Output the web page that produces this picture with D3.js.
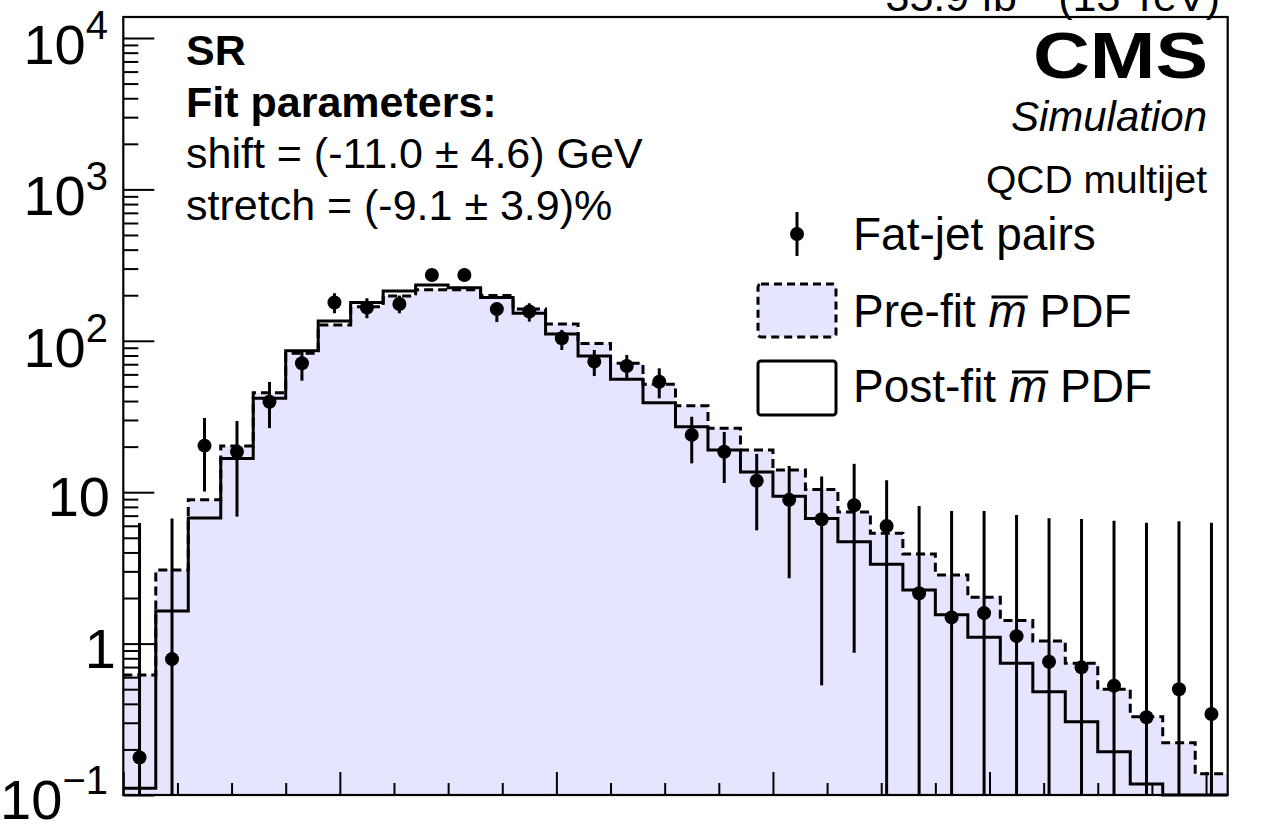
<!DOCTYPE html>
<html lang="en">
<head>
<meta charset="utf-8">
<title>SR fit</title>
<script src="https://cdn.jsdelivr.net/npm/d3@7"></script>
<style>
  body { margin: 0; background: #fff; }
  svg { display: block; font-family: "Liberation Sans", Arial, Helvetica, sans-serif; }
</style>
</head>
<body>
<script>

// bin edges of the mass axis (GeV), 34 bins
var binEdges = [0, 15, 30, 45, 60, 75, 90, 105, 120, 135, 150, 165, 180, 195, 210, 225, 240,
  255, 270, 285, 300, 315, 330, 345, 360, 375, 390, 405, 420, 435, 450, 465, 480, 495, 510];

// fat-jet pairs (points) with lower / upper error edges
var dataVals = [0.177, 0.79, 20.3, 18.5, 39.6, 71, 179, 166, 175, 272, 272, 162, 156, 104, 72.8,
  68.2, 53.7, 23.9, 18.5, 11.9, 8.9, 6.63, 8.2, 5.98, 2.15, 1.49, 1.59, 1.12, 0.759, 0.697, 0.527,
  0.326, 0.499, 0.343];
var dataLo = [0, 0, 10.1, 6.9, 26.5, 54.5, 152, 141, 152, 252, 252, 133, 134, 87, 58.5, 55, 41.7,
  15.5, 11.5, 5.6, 2.7, 0.53, 0.87, 0, 0, 0, 0, 0, 0, 0, 0, 0, 0, 0];
var dataHi = [6.26, 6.7, 30.9, 29.5, 53.5, 87, 206, 191, 199, 290, 290, 178, 177, 118, 87, 80.5,
  65.8, 31.5, 25, 17.9, 14.9, 12.7, 15.4, 12.0, 8.1, 7.5, 7.5, 7.06, 6.72, 6.65, 6.49, 6.29, 6.42, 6.29];

// pre-fit and post-fit mbar PDFs
var preFit = [0.62, 3.06, 8.9, 20.2, 45.4, 82.6, 127, 168, 198, 217, 217, 199, 162, 129, 96, 71,
  51.7, 37.3, 26.4, 19.0, 14.0, 10.4, 7.4, 5.36, 3.91, 2.84, 2.02, 1.42, 1.04, 0.741, 0.499, 0.329,
  0.221, 0.138];
var postFit = [0.111, 1.64, 6.76, 16.7, 41.7, 86, 135, 179, 213, 234, 224, 193, 152, 111, 79.4,
  55.7, 39, 27.1, 19.0, 13.6, 9.4, 6.7, 4.7, 3.34, 2.26, 1.55, 1.10, 0.741, 0.481, 0.305, 0.193,
  0.118, 0.09, 0.09];

var xMajor = [0, 100, 200, 300, 400, 500];
var yMajor = [0.1, 1, 10, 100, 1000, 10000];
var yLabels = [["10", "\u22121"], ["1", null], ["10", null], ["10", "2"], ["10", "3"], ["10", "4"]];

var W = 1267, H = 824;
// frame edges (note: "top" is reserved on window, so use p* names)
var pL = 123.3, pR = 1227.7, pT = 17, pB = 795;
var fillCol = "#e5e5ff";

var svg = d3.select("body").append("svg").attr("width", W).attr("height", H);

var x = d3.scaleLinear().domain([binEdges[0], binEdges[binEdges.length - 1]]).range([pL, pR]);
var y = d3.scaleLog().domain([0.1, Math.pow(10, 4 + 21 / 151.4)]).range([pB, pT]).clamp(true);
function Y(v) { return v <= y.domain()[0] ? pB : y(v); }

function steps(vals) {
  var pts = [];
  vals.forEach(function(v, i) {
    pts.push([x(binEdges[i]), Y(v)]);
    pts.push([x(binEdges[i + 1]), Y(v)]);
  });
  return pts;
}

var line = d3.line();

// pre-fit fill + dashed outline
var prePts = steps(preFit);
svg.append("path")
  .attr("d", line([[pL, pB]].concat(prePts, [[pR, pB]])) + "Z")
  .attr("fill", fillCol);
svg.append("path")
  .attr("d", line(prePts))
  .attr("fill", "none").attr("stroke", "#000").attr("stroke-width", 3)
  .attr("stroke-dasharray", "9,5");

// post-fit solid
svg.append("path")
  .attr("d", line(steps(postFit)))
  .attr("fill", "none").attr("stroke", "#000").attr("stroke-width", 3);

// data points
var centers = dataVals.map(function(d, i) { return (binEdges[i] + binEdges[i + 1]) / 2; });
var pts = svg.append("g").selectAll("g").data(dataVals).enter().append("g");
pts.append("line")
  .attr("x1", function(d, i) { return x(centers[i]); })
  .attr("x2", function(d, i) { return x(centers[i]); })
  .attr("y1", function(d, i) { return Y(dataLo[i]); })
  .attr("y2", function(d, i) { return Y(dataHi[i]); })
  .attr("stroke", "#000").attr("stroke-width", 3);
pts.append("circle")
  .attr("cx", function(d, i) { return x(centers[i]); })
  .attr("cy", function(d) { return Y(d); })
  .attr("r", 7).attr("fill", "#000");

// axes: inward ticks
var xMinor = d3.range(0, 501, 25).filter(function(v) { return v % 100 !== 0; });
svg.append("g").attr("transform", "translate(0," + pB + ")")
  .call(d3.axisBottom(x).tickValues(xMajor).tickSize(-23).tickFormat(""));
svg.append("g").attr("transform", "translate(0," + pB + ")")
  .call(d3.axisBottom(x).tickValues(xMinor).tickSize(-12).tickFormat(""));

var yMinor = [];
yMajor.forEach(function(m) {
  for (var k = 2; k <= 9; k++) if (m * k < y.domain()[1]) yMinor.push(m * k);
});
svg.append("g").attr("transform", "translate(" + pL + ",0)")
  .call(d3.axisLeft(y).tickValues(yMajor).tickSize(-31).tickFormat(""));
svg.append("g").attr("transform", "translate(" + pL + ",0)")
  .call(d3.axisLeft(y).tickValues(yMinor).tickSize(-15).tickFormat(""));
svg.selectAll(".domain").remove();
svg.selectAll(".tick line").attr("stroke", "#000").attr("stroke-width", 2);

// frame
svg.append("rect").attr("x", pL).attr("y", pT)
  .attr("width", pR - pL).attr("height", pB - pT)
  .attr("fill", "none").attr("stroke", "#000").attr("stroke-width", 2.2);

// y labels
yMajor.forEach(function(v, i) {
  var lab = yLabels[i];
  var t = svg.append("text").attr("text-anchor", "end").attr("font-size", 56)
    .attr("x", lab[1] ? 108 : (v === 1 ? 116 : 110))
    .attr("y", y(v) + (v === 0.1 ? 24 : (lab[1] ? 26 : 24)));
  t.append("tspan").text(lab[0]);
  if (lab[1]) t.append("tspan").attr("font-size", 40).attr("dy", -25).text(lab[1]);
});

// header text (mostly above the window, as in the original)
svg.append("text").attr("x", 1220).attr("y", 11).attr("text-anchor", "end")
  .attr("font-size", 43).text("35.9 fb\u207B\u00B9 (13 TeV)");

svg.append("text").attr("x", 1208).attr("y", 78).attr("text-anchor", "end")
  .attr("font-size", 65).attr("font-weight", "bold")
  .attr("textLength", 175).attr("lengthAdjust", "spacingAndGlyphs").text("CMS");
svg.append("text").attr("x", 1207).attr("y", 131).attr("text-anchor", "end")
  .attr("font-size", 42).attr("font-style", "italic").text("Simulation");
svg.append("text").attr("x", 1207).attr("y", 193).attr("text-anchor", "end")
  .attr("font-size", 39).text("QCD multijet");

var info = [["SR", true], ["Fit parameters:", true],
  ["shift = (-11.0 \u00B1 4.6) GeV", false], ["stretch = (-9.1 \u00B1 3.9)%", false]];
info.forEach(function(r, i) {
  svg.append("text").attr("x", 186).attr("y", 65 + i * 51.5)
    .attr("font-size", 43).attr("font-weight", r[1] ? "bold" : "normal").text(r[0]);
});

// legend
var lg = svg.append("g");
lg.append("line").attr("x1", 797).attr("x2", 797).attr("y1", 212).attr("y2", 256)
  .attr("stroke", "#000").attr("stroke-width", 3);
lg.append("circle").attr("cx", 797).attr("cy", 234).attr("r", 7).attr("fill", "#000");
lg.append("rect").attr("x", 758).attr("y", 284).attr("width", 78).attr("height", 53).attr("rx", 3)
  .attr("fill", fillCol).attr("stroke", "#000").attr("stroke-width", 3).attr("stroke-dasharray", "8,5");
lg.append("rect").attr("x", 758).attr("y", 361).attr("width", 78).attr("height", 54).attr("rx", 3)
  .attr("fill", "#fff").attr("stroke", "#000").attr("stroke-width", 3);

var legTexts = [["Fat-jet pairs", 250], ["Pre-fit |m| PDF", 327], ["Post-fit |m| PDF", 402]];
legTexts.forEach(function(l) {
  var parts = l[0].split("|");
  var t = lg.append("text").attr("x", 853).attr("y", l[1]).attr("font-size", 46);
  t.append("tspan").text(parts[0]);
  if (parts.length > 1) {
    t.append("tspan").attr("font-style", "italic").text(parts[1]);
    t.append("tspan").text(parts[2]);
    var idx = parts[0].length;
    var a = t.node().getStartPositionOfChar(idx).x;
    var b = t.node().getEndPositionOfChar(idx).x;
    lg.append("line").attr("x1", a + 3).attr("x2", b + 1)
      .attr("y1", l[1] - 30).attr("y2", l[1] - 30)
      .attr("stroke", "#000").attr("stroke-width", 3);
  }
});

</script>
</body>
</html>
